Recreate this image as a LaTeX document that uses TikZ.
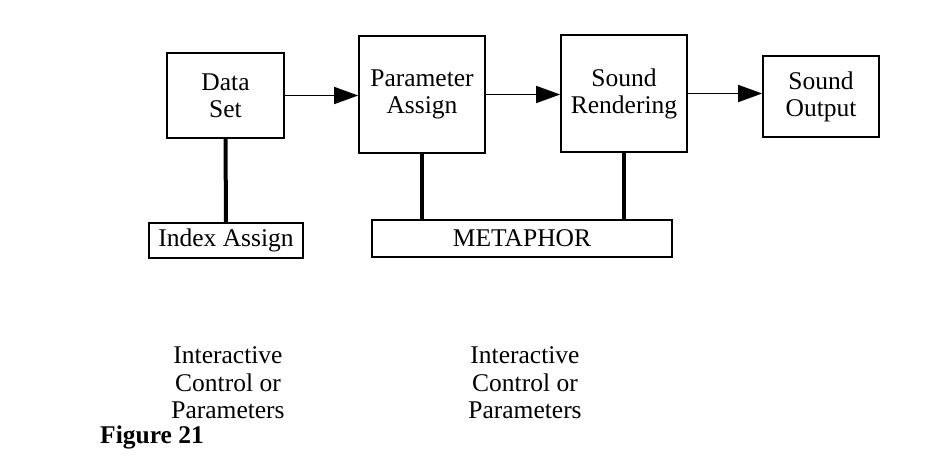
\documentclass[tikz,border=0pt]{standalone}
\usepackage{fontspec}
\setmainfont{Liberation Serif}
\usetikzlibrary{arrows.meta}
\tikzset{
  blk/.style={draw, line width=1.6pt, align=center, inner sep=0pt,
    font=\fontsize{25.5}{27}\selectfont},
  flow/.style={line width=1.5pt, -{Triangle[length=24pt,width=17pt]}},
  ctl/.style={line width=4pt},
  note/.style={align=center, font=\fontsize{25.5}{27.5}\selectfont}
}

\begin{document}
\begin{tikzpicture}[x=1pt,y=-1pt]
	    \useasboundingbox (0,0) rectangle (932,474);
	    % main chain
	    \node[blk, minimum width=117pt, minimum height=85pt] (data) at (225.5,95.5) {Data\\Set};
	    \node[blk, minimum width=126pt, minimum height=117pt] (param) at (422,94.5) {Parameter\\Assign};
	    \node[blk, minimum width=126pt, minimum height=117pt] (render) at (624,93.5) {Sound\\Rendering};
	    \node[blk, minimum width=116pt, minimum height=81pt] (output) at (821,96.5) {Sound\\Output};
	    % lower boxes
	    \node[blk, minimum width=154pt, minimum height=35pt] (index) at (226,240.5) {Index Assign};
	    \node[blk, minimum width=300pt, minimum height=37pt] (meta) at (522,238.5) {METAPHOR};
	    \draw[flow] (data.east) -- (data.east -| param.west);
	    \draw[flow] (param.east) -- (param.east -| render.west);
	    \draw[flow] (render.east) -- (render.east -| output.west);
	    \draw[ctl] (data.south) -- (index.north);
	    \draw[ctl] (param.south) -- (param.south |- meta.north);
	    \draw[ctl] (render.south) -- (render.south |- meta.north);
	    % captions
	    \node[note] (ctlleft) at (228,383) {Interactive\\Control or\\Parameters};
	    \node[note] (ctlright) at (525,383) {Interactive\\Control or\\Parameters};
	    \node[anchor=west, inner sep=0pt, font=\fontsize{25.5}{27}\selectfont\bfseries] (fig) at (100,437) {Figure 21};
        \end{tikzpicture}
\end{document}
